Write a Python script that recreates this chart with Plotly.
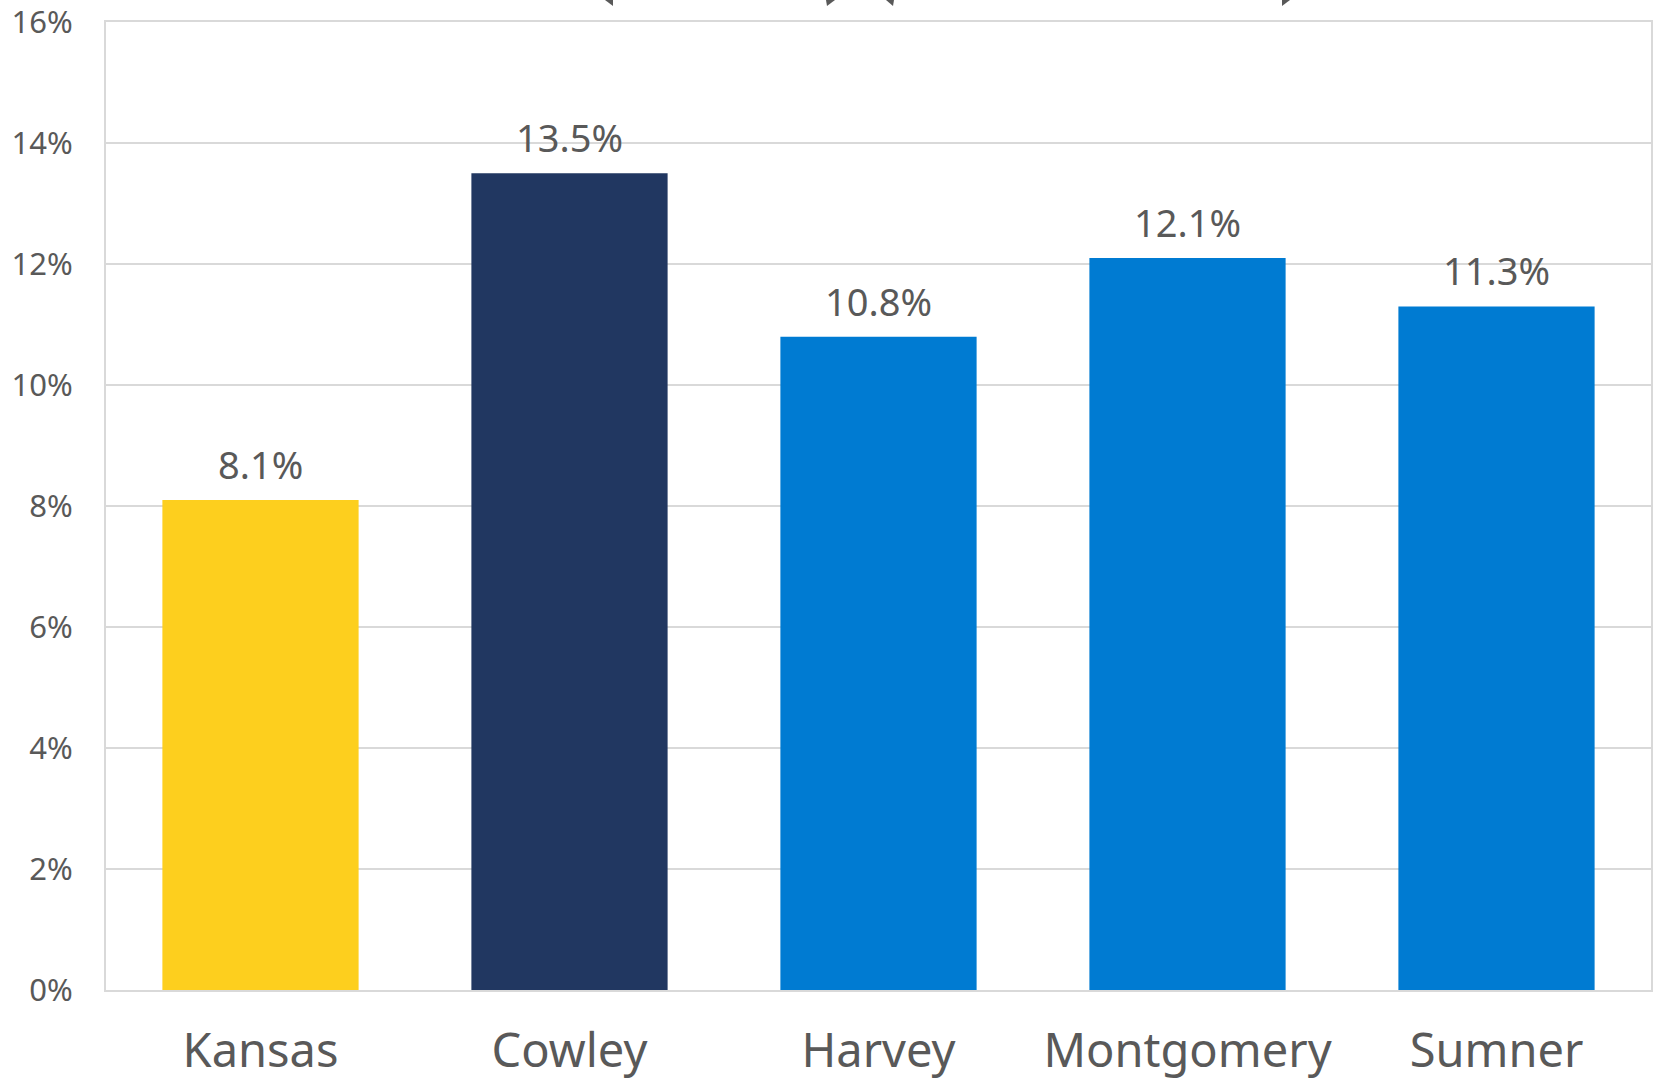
import plotly.graph_objects as go

categories = ["Kansas", "Cowley", "Harvey", "Montgomery", "Sumner"]
values = [8.1, 13.5, 10.8, 12.1, 11.3]
labels = ["8.1%", "13.5%", "10.8%", "12.1%", "11.3%"]
colors = ["#FDCF1E", "#213761", "#007BD2", "#007BD2", "#007BD2"]
ytick_vals = [0, 2, 4, 6, 8, 10, 12, 14, 16]
ytick_text = ["0%", "2%", "4%", "6%", "8%", "10%", "12%", "14%", "16%"]

W, H = 1658, 1085
ML, MR, MT, MB = 106, 7, 22, 95
PW, PH = W - ML - MR, H - MT - MB

FONT = "Noto Sans, Open Sans, DejaVu Sans, sans-serif"
GRAY = "#595959"

fig = go.Figure()
fig.add_trace(go.Bar(
    x=categories, y=values, marker=dict(color=colors, line=dict(width=0)),
    width=0.635, hoverinfo="x+y",
))

for c, v, t in zip(categories, values, labels):
    fig.add_annotation(x=c, y=v, xref="x", yref="y", text=t, showarrow=False,
                       yanchor="middle", yshift=36,
                       font=dict(size=38, color=GRAY, family=FONT))


def px2paper(xp, yp):
    return ((xp - ML) / PW, 1 - (yp - MT) / PH)


# partial brace tips cut off at top edge
tips = [
    [(605, 0), (613, 0), (613, 6)],
    [(826, 0), (835, 0), (827, 6)],
    [(886, 0), (894, 0), (893, 6)],
    [(1282, 0), (1290, 0), (1282, 6)],
]
for tri in tips:
    pts = [px2paper(*p) for p in tri]
    path = "M {} {} L {} {} L {} {} Z".format(pts[0][0], pts[0][1], pts[1][0], pts[1][1], pts[2][0], pts[2][1])
    fig.add_shape(type="path", path=path, xref="paper", yref="paper",
                  fillcolor="#595959", line=dict(width=0))

fig.update_layout(
    width=W, height=H,
    margin=dict(l=ML, r=MR, t=MT, b=MB, pad=0, autoexpand=False),
    plot_bgcolor="white", paper_bgcolor="white",
    showlegend=False,
    font=dict(family=FONT, color=GRAY),
    bargap=0.365,
)
fig.update_yaxes(
    range=[0, 16.001], tickvals=ytick_vals, ticktext=ytick_text,
    showgrid=True, gridcolor="#D9D9D9", gridwidth=2,
    showline=True, linecolor="#D9D9D9", linewidth=2, mirror=True,
    zeroline=False, ticks="", ticklabelstandoff=25, automargin=False,
    ticklabeloverflow="allow",
    tickfont=dict(size=31, color=GRAY, family=FONT),
)
fig.update_xaxes(
    showline=True, linecolor="#D9D9D9", linewidth=2, mirror=True,
    ticks="", ticklabelstandoff=19, automargin=False,
    ticklabeloverflow="allow",
    tickfont=dict(size=47, color=GRAY, family=FONT),
)

fig.write_html("out.html", config={"displayModeBar": False},
               post_script="document.body.style.margin='0';document.body.style.overflow='hidden';")
